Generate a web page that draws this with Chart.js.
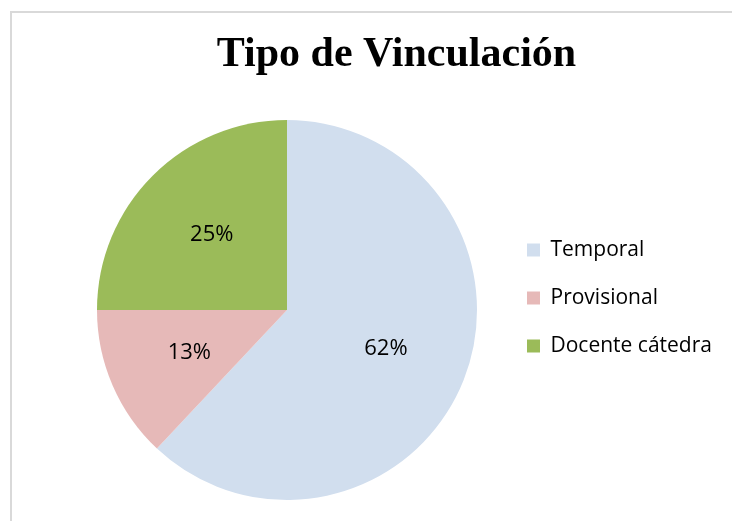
<!DOCTYPE html>
<html>
<head>
<meta charset="utf-8">
<script src="https://cdn.jsdelivr.net/npm/chart.js@4/dist/chart.umd.min.js"></script>
<style>
  body { margin: 0; background: #fff; overflow: hidden; }
  #frame { position: absolute; left: 10px; top: 11px; width: 800px; height: 600px;
           border-left: 2px solid #d9d9d9; border-top: 2px solid #d9d9d9; }
  #wrap { position: absolute; left: 0; top: 0; width: 732px; height: 521px; }
</style>
</head>
<body>
<div id="frame"></div>
<div id="wrap"><canvas id="myChart"></canvas></div>
<script>
let categories = ['Temporal', 'Provisional', 'Docente cátedra'];
let percentages = [62, 13, 25];
let sliceColors = ['#D1DEEE', '#E6B9B8', '#9BBB59'];

// percentage text inside each slice
let sliceLabels = {
    id: 'sliceLabels',
    afterDatasetsDraw: function (chart) {
        let ctx = chart.ctx;
        let meta = chart.getDatasetMeta(0);
        ctx.save();
        ctx.font = '22px "Open Sans"';
        ctx.fillStyle = '#000';
        ctx.textAlign = 'center';
        ctx.textBaseline = 'middle';
        meta.data.forEach(function (arc, i) {
            let mid = (arc.startAngle + arc.endAngle) / 2;
            let r = arc.outerRadius * 0.56;
            ctx.fillText(percentages[i] + '%', arc.x + Math.cos(mid) * r, arc.y + Math.sin(mid) * r);
        });
        ctx.restore();
    }
};

let ctx = document.getElementById('myChart');
let myChart = new Chart(ctx, {
    type: 'pie',
    data: {
        labels: categories,
        datasets: [{
            data: percentages,
            backgroundColor: sliceColors,
            borderWidth: 0
        }]
    },
    plugins: [sliceLabels],
    options: {
        responsive: true,
        maintainAspectRatio: false,
        animation: false,
        layout: { padding: { top: 12, left: 74, right: 13, bottom: 21 } },
        plugins: {
            tooltip: { enabled: false },
            title: {
                display: true,
                text: 'Tipo de Vinculación',
                color: '#000',
                font: { family: '"Liberation Serif", "Times New Roman", serif', size: 42, weight: 'bold', lineHeight: 1.2 },
                padding: { top: 18, bottom: 39.6 }
            },
            legend: {
                position: 'right',
                align: 'start',
                fullSize: false,
                maxWidth: 219,
                // empty title only used as a spacer above the items
                title: { display: true, text: '', font: { size: 10, lineHeight: 1 }, padding: { top: 82.5, bottom: 0 } },
                labels: {
                    boxWidth: 13,
                    boxHeight: 13,
                    padding: 27,
                    color: '#000',
                    font: { family: '"Open Sans"', size: 21 }
                }
            }
        }
    }
});
</script>
</body>
</html>
